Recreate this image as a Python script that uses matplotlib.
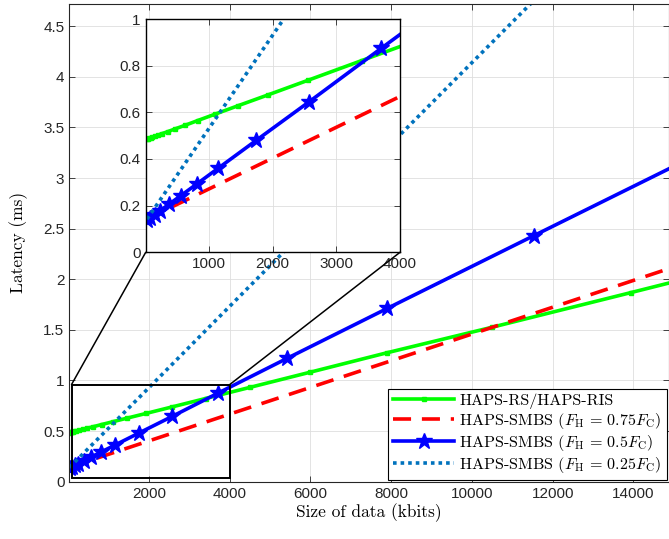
import matplotlib
matplotlib.use("Agg")
import matplotlib.pyplot as plt
from matplotlib.patches import Rectangle, ConnectionPatch
from matplotlib.ticker import FuncFormatter

plt.rcParams['mathtext.fontset'] = 'cm'
plt.rcParams['font.family'] = 'Liberation Sans'

# values (size in kbits, latency in ms)
x_rs = [30, 49, 65, 86, 114, 152, 201, 267, 354, 470, 623, 827, 1097, 1455,
        1931, 2562, 3400, 4510, 5983, 7905, 10497, 13933, 14870]
lat_rs = [0.485, 0.487, 0.489, 0.491, 0.493, 0.497, 0.502, 0.509, 0.517, 0.529,
          0.544, 0.565, 0.592, 0.628, 0.675, 0.738, 0.822, 0.933, 1.081, 1.275,
          1.526, 1.868, 1.962]

x_075 = [30, 4000, 10000, 14870]
lat_075 = [0.143, 0.668, 1.459, 2.104]

x_05 = [30, 80, 156, 234, 380, 562, 807, 1146, 1745, 2578, 3708, 5421, 7905,
        11533, 14870]
lat_05 = [0.137, 0.147, 0.162, 0.178, 0.207, 0.243, 0.292, 0.360, 0.480, 0.646,
          0.875, 1.219, 1.713, 2.431, 3.090]

x_025 = [30, 2000, 8000, 14870]
lat_025 = [0.142, 0.93, 3.34, 6.09]

labels = ['HAPS-RS/HAPS-RIS',
          r'HAPS-SMBS ($F_{\mathrm{H}}\,=\,0.75F_{\mathrm{C}}$)',
          r'HAPS-SMBS ($F_{\mathrm{H}}\,=\,0.5F_{\mathrm{C}}$)',
          r'HAPS-SMBS ($F_{\mathrm{H}}\,=\,0.25F_{\mathrm{C}}$)']

axis_col = '#262626'
lw = 2.6


def draw_series(a):
    a.plot(x_rs, lat_rs, color=(0, 1, 0), lw=lw, marker='s', ms=3.5,
           markevery=slice(0, -1), label=labels[0])
    a.plot(x_075, lat_075, color=(1, 0, 0), lw=lw, dashes=(5, 3),
           label=labels[1])
    a.plot(x_05, lat_05, color=(0, 0, 1), lw=lw, marker='*', ms=12,
           markevery=slice(0, -1), label=labels[2])
    a.plot(x_025, lat_025, color='#0072BD', lw=lw, dashes=(1, 1.1),
           dash_capstyle='butt', label=labels[3])


def style_axes(a):
    a.grid(True, color='#dedede', lw=0.6)
    a.set_axisbelow(True)
    a.tick_params(direction='in', top=True, right=True, length=4, width=0.6,
                  colors=axis_col, labelsize=11)
    fmt = FuncFormatter(lambda v, _: f'{v:g}')
    a.yaxis.set_major_formatter(fmt)


fig = plt.figure(figsize=(6.69, 5.39), dpi=100)
ax = fig.add_axes([0.1036, 0.1063, 0.8957, 0.8863])
draw_series(ax)
ax.set_xlim(25, 14870)
ax.set_ylim(0, 4.72)
ax.set_xticks(range(2000, 14001, 2000))
ax.set_yticks([0, 0.5, 1, 1.5, 2, 2.5, 3, 3.5, 4, 4.5])
style_axes(ax)
for s in ax.spines.values():
    s.set_color(axis_col)
    s.set_linewidth(0.8)
ax.set_xlabel('Size of data (kbits)', family='cmr10', fontsize=12.5,
              labelpad=2)
ax.set_ylabel('Latency (ms)', family='cmr10', fontsize=12.5, labelpad=11)

leg = ax.legend(loc='lower right', borderaxespad=0.12, fancybox=False,
                edgecolor='k', framealpha=1, handlelength=3.8,
                handletextpad=0.3, labelspacing=0.12, borderpad=0.3,
                prop={'family': 'cmr10', 'size': 11.6})
leg.get_frame().set_linewidth(0.8)

# zoom box
ax.add_patch(Rectangle((80, 0.035), 3920, 0.925, fill=False, ec='k',
                       lw=1.4, zorder=4))

axins = fig.add_axes([0.2178, 0.5319, 0.3801, 0.4328])
draw_series(axins)
axins.set_xlim(10, 4000)
axins.set_ylim(0, 1)
axins.set_xticks([1000, 2000, 3000, 4000])
axins.set_yticks([0, 0.2, 0.4, 0.6, 0.8, 1])
style_axes(axins)
for s in axins.spines.values():
    s.set_color('k')
    s.set_linewidth(1.0)

for xa, xb in [(80, 0), (4000, 1)]:
    con = ConnectionPatch(xyA=(xa, 0.96), coordsA=ax.transData,
                          xyB=(xb, 0), coordsB=axins.transAxes,
                          color='k', lw=1.1)
    fig.add_artist(con)

fig.savefig('out.png', dpi=100)
